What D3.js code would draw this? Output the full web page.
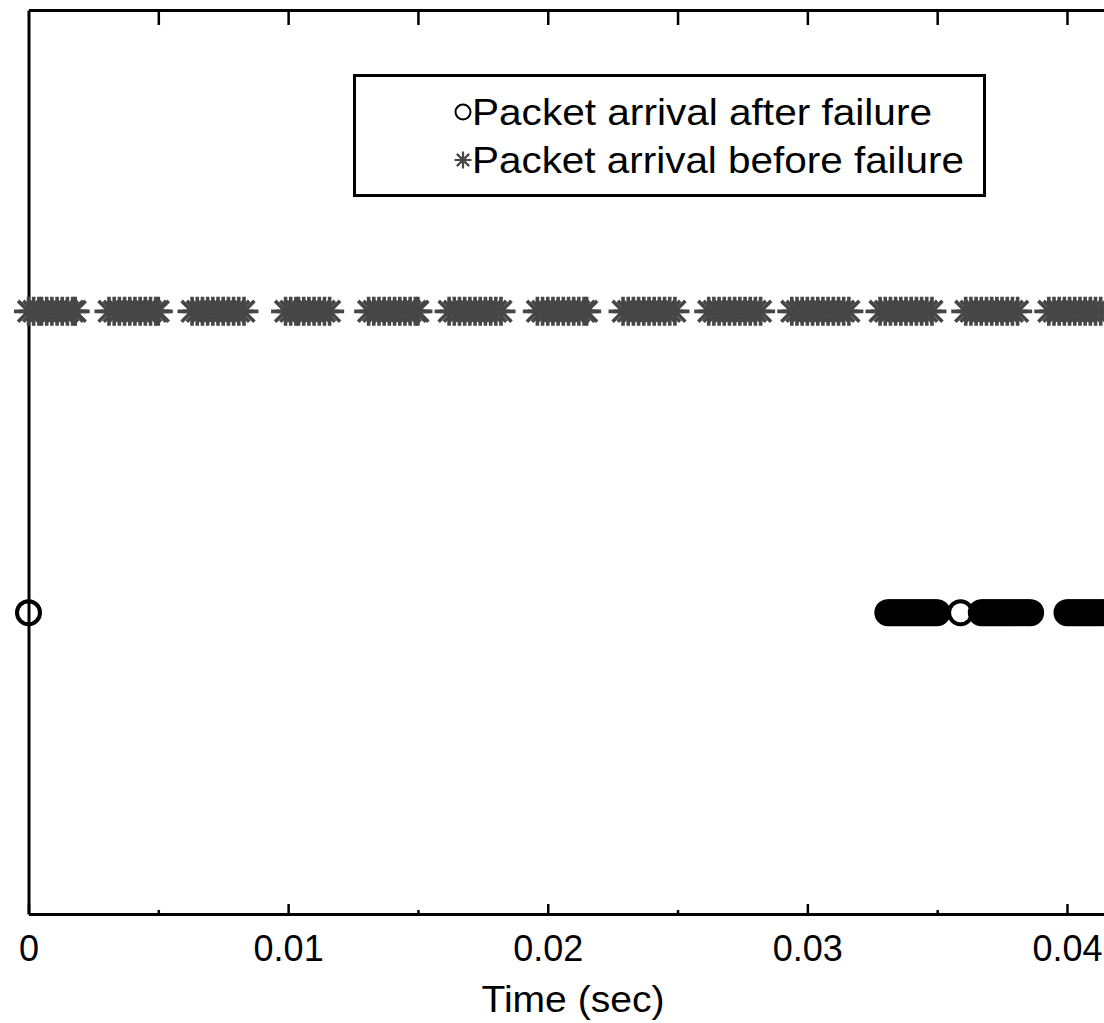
<!DOCTYPE html>
<html lang="en">
<head>
    <meta charset="UTF-8">
    <title>Packet arrival</title>
    <script src="https://d3js.org/d3.v7.min.js"></script>
    <style>
        body { margin: 0; background: #fff; }
        svg { display: block; }
        text { font-family: "Liberation Sans", Arial, sans-serif; fill: #000; }
    </style>
</head>
<body>
    <div id="chart"></div>

    <script type="text/javascript">

        // arrival times (sec)
        let beforeFailure = [
            0.0000, 0.0002, 0.0004, 0.0005, 0.0007, 0.0009, 0.0011, 0.0013, 0.0015, 0.0017, 0.0018,
            0.0031, 0.0033, 0.0035, 0.0037, 0.0039, 0.0041, 0.0043, 0.0045, 0.0047, 0.0049, 0.0050,
            0.0063, 0.0065, 0.0067, 0.0069, 0.0071, 0.0073, 0.0075, 0.0077, 0.0079, 0.0081, 0.0083,
            0.0099, 0.0101, 0.0103, 0.0104, 0.0106, 0.0108, 0.0110, 0.0112, 0.0114, 0.0116,
            0.0131, 0.0133, 0.0135, 0.0137, 0.0139, 0.0141, 0.0143, 0.0145, 0.0147, 0.0149, 0.0150,
            0.0162, 0.0164, 0.0166, 0.0168, 0.0170, 0.0172, 0.0174, 0.0176, 0.0178, 0.0180, 0.0182,
            0.0196, 0.0198, 0.0200, 0.0202, 0.0204, 0.0206, 0.0208, 0.0210, 0.0212, 0.0214, 0.0215,
            0.0229, 0.0231, 0.0233, 0.0235, 0.0237, 0.0239, 0.0241, 0.0243, 0.0245, 0.0247, 0.0249,
            0.0262, 0.0264, 0.0266, 0.0268, 0.0270, 0.0272, 0.0274, 0.0276, 0.0278, 0.0280, 0.0282,
            0.0294, 0.0296, 0.0298, 0.0300, 0.0302, 0.0304, 0.0306, 0.0308, 0.0310, 0.0312, 0.0314, 0.0316,
            0.0328, 0.0330, 0.0332, 0.0334, 0.0336, 0.0338, 0.0340, 0.0342, 0.0344, 0.0346, 0.0348,
            0.0361, 0.0363, 0.0365, 0.0367, 0.0369, 0.0371, 0.0373, 0.0375, 0.0377, 0.0379, 0.0381,
            0.0393, 0.0395, 0.0397, 0.0399, 0.0401, 0.0403, 0.0405, 0.0407, 0.0409, 0.0411, 0.0413
        ];

        let afterFailure = [
            0.0000,
            0.03310, 0.03320, 0.03330, 0.03340, 0.03350, 0.03360, 0.03370, 0.03380, 0.03390, 0.03400,
            0.03410, 0.03420, 0.03430, 0.03440, 0.03450, 0.03460, 0.03470, 0.03480, 0.03490, 0.03500,
            0.0359,
            0.03670, 0.03680, 0.03690, 0.03700, 0.03710, 0.03720, 0.03730, 0.03740, 0.03750, 0.03760,
            0.03770, 0.03780, 0.03790, 0.03800, 0.03810, 0.03820, 0.03830, 0.03840, 0.03850, 0.03860,
            0.04000, 0.04010, 0.04020, 0.04030, 0.04040, 0.04050, 0.04060, 0.04070, 0.04080, 0.04090,
            0.04100, 0.04110, 0.04120, 0.04130, 0.04140, 0.04150
        ];

        // row of each series on the (hidden) y axis
        let beforeLevel = 2;
        let afterLevel = 1;

        let majorTicks = [0, 0.01, 0.02, 0.03, 0.04];
        let tickLabels = ["0", "0.01", "0.02", "0.03", "0.04"];
        let minorTicks = [0.005, 0.015, 0.025, 0.035];
        let topTicks = [0.005, 0.01, 0.015, 0.02, 0.025, 0.03, 0.035, 0.04];

        let legendLabels = ["Packet arrival after failure", "Packet arrival before failure"];
        let xLabel = "Time (sec)";

        let width = 1104, height = 1023;
        let plotLeft = 28.5, plotTop = 10, plotBottom = 914;

        let svg = d3.select("#chart").append("svg")
            .attr("width", width)
            .attr("height", height);

        // 0.04 sits at x=1067, axis runs off the right edge
        let x = d3.scaleLinear()
            .domain([0, 0.0425])
            .range([plotLeft, plotLeft + 0.0425 * 25962]);

        let y = d3.scaleLinear()
            .domain([0, 3])
            .range([plotBottom, plotTop]);

        // bottom axis with labels
        let xAxis = svg.append("g")
            .attr("transform", "translate(0," + plotBottom + ")")
            .call(d3.axisBottom(x)
                .tickValues(majorTicks)
                .tickSize(-10)
                .tickSizeOuter(0)
                .tickPadding(21)
                .tickFormat((d, i) => tickLabels[i]));
        xAxis.select(".domain").attr("stroke-width", 3);
        xAxis.selectAll(".tick line").attr("stroke-width", 2.5);
        xAxis.selectAll(".tick text")
            .style("font-size", "36px")
            .attr("font-family", null);

        let xMinor = svg.append("g")
            .attr("transform", "translate(0," + plotBottom + ")")
            .call(d3.axisBottom(x)
                .tickValues(minorTicks)
                .tickSize(-4)
                .tickSizeOuter(0)
                .tickFormat(""));
        xMinor.select(".domain").remove();
        xMinor.selectAll(".tick line").attr("stroke-width", 2.5);

        // top frame line with ticks
        let xTop = svg.append("g")
            .attr("transform", "translate(0," + plotTop + ")")
            .call(d3.axisTop(x)
                .tickValues(topTicks)
                .tickSize(-15)
                .tickSizeOuter(0)
                .tickFormat(""));
        xTop.select(".domain").attr("stroke-width", 3);
        xTop.selectAll(".tick line").attr("stroke-width", 2.5);

        // left frame line, no ticks
        let yAxis = svg.append("g")
            .attr("transform", "translate(" + plotLeft + ",0)")
            .call(d3.axisLeft(y).tickValues([]).tickSizeOuter(0));
        yAxis.select(".domain").attr("stroke-width", 3);

        svg.append("text")
            .attr("x", 573)
            .attr("y", 1012)
            .attr("text-anchor", "middle")
            .attr("textLength", 183)
            .attr("lengthAdjust", "spacingAndGlyphs")
            .style("font-size", "37px")
            .text(xLabel);

        // asterisk marker: plus and cross
        function star(s) {
            let d = s * 0.72;
            return "M" + (-s) + ",0L" + s + ",0"
                + "M0," + (-s) + "L0," + s
                + "M" + (-d) + "," + (-d) + "L" + d + "," + d
                + "M" + (-d) + "," + d + "L" + d + "," + (-d);
        }

        svg.append("g")
            .selectAll("path")
            .data(beforeFailure)
            .enter()
            .append("path")
            .attr("transform", d => "translate(" + x(d) + "," + y(beforeLevel) + ")")
            .attr("d", star(14.5))
            .attr("fill", "none")
            .attr("stroke", "#464646")
            .attr("stroke-width", 3.6);

        svg.append("g")
            .selectAll("circle")
            .data(afterFailure)
            .enter()
            .append("circle")
            .attr("cx", d => x(d))
            .attr("cy", y(afterLevel))
            .attr("r", 11.5)
            .attr("fill", "none")
            .attr("stroke", "#000")
            .attr("stroke-width", 4);

        // legend
        let legend = svg.append("g");
        legend.append("rect")
            .attr("x", 354.5)
            .attr("y", 75.5)
            .attr("width", 630)
            .attr("height", 120)
            .attr("fill", "#fff")
            .attr("stroke", "#000")
            .attr("stroke-width", 3);

        let rows = legend.selectAll("g.row")
            .data(legendLabels)
            .enter()
            .append("g")
            .attr("class", "row")
            .attr("transform", (d, i) => "translate(463," + (112 + i * 48) + ")");

        rows.filter((d, i) => i === 0)
            .append("circle")
            .attr("r", 7.5)
            .attr("fill", "none")
            .attr("stroke", "#000")
            .attr("stroke-width", 2);

        rows.filter((d, i) => i === 1)
            .append("path")
            .attr("d", star(8.5))
            .attr("fill", "none")
            .attr("stroke", "#464646")
            .attr("stroke-width", 2.2);

        rows.append("text")
            .attr("x", 9)
            .attr("y", 13)
            .attr("textLength", (d, i) => i === 0 ? 460 : 492)
            .attr("lengthAdjust", "spacingAndGlyphs")
            .style("font-size", "37px")
            .text(d => d);

    </script>
</body>
</html>
